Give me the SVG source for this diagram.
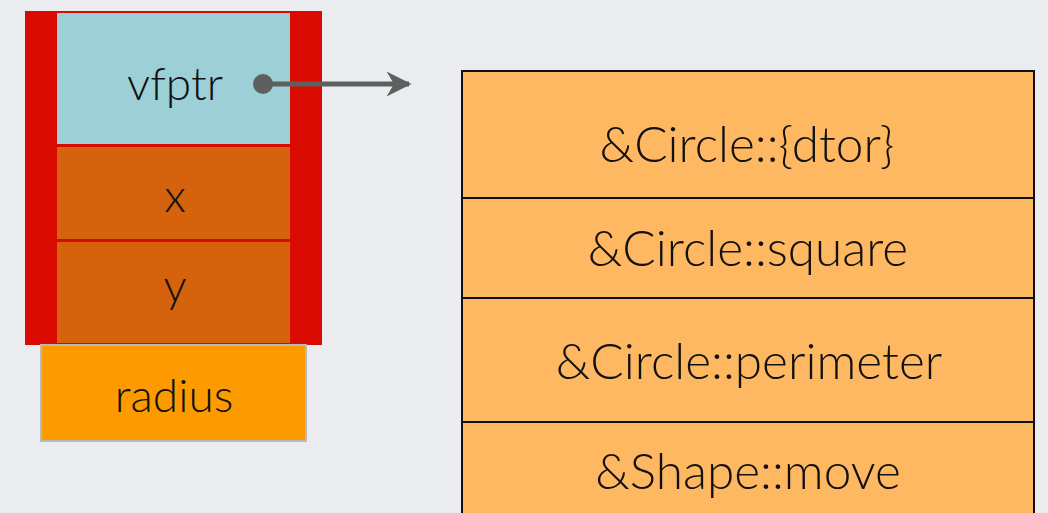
<svg xmlns="http://www.w3.org/2000/svg" width="1048" height="513" viewBox="0 0 1048 513">
<defs>
<style>
.t{font-family:Lato,"Open Sans","DejaVu Sans",sans-serif;font-weight:300;fill:#111;text-anchor:middle}
.big{font-size:46px}
.tb{font-size:49.5px}
.row{fill:#feb862;stroke:#111;stroke-width:2}
</style>
<marker id="ah" viewBox="0 0 10 10" refX="9" refY="5" markerWidth="5" markerHeight="5" orient="auto" markerUnits="strokeWidth">
<path d="M0,0 L10,5 L0,10 L3,5 Z" fill="#5d605f"/>
</marker>
</defs>
<rect x="0" y="0" width="1048" height="513" fill="#eaecef"/>
<g id="object">
<rect x="25" y="11" width="297" height="334" fill="#d90b00"/>
<g id="vfptr"><rect x="57" y="13" width="233" height="131" fill="#9ccfd6"/><text class="t big" x="175" y="100">vfptr</text></g>
<g id="x"><rect x="57" y="147" width="233" height="92" fill="#d5620c"/><text class="t big" x="175" y="212">x</text></g>
<g id="y"><rect x="57" y="242" width="233" height="101" fill="#d5620c"/><text class="t big" x="175" y="302">y</text></g>
</g>
<g id="radius"><rect x="41" y="345" width="265" height="96" fill="#fd9a00" stroke="#b9b9b9" stroke-width="2"/><text class="t big" x="174" y="412">radius</text></g>
<g id="vtable">
<g id="r1"><rect class="row" x="462" y="71" width="572" height="127"/><text class="t tb" x="747" y="162">&amp;Circle::{dtor}</text></g>
<g id="r2"><rect class="row" x="462" y="198" width="572" height="100"/><text class="t tb" x="748" y="266">&amp;Circle::square</text></g>
<g id="r3"><rect class="row" x="462" y="298" width="572" height="124"/><text class="t tb" x="749" y="379">&amp;Circle::perimeter</text></g>
<g id="r4"><rect class="row" x="462" y="422" width="572" height="100"/><text class="t tb" x="748" y="489">&amp;Shape::move</text></g>
</g>
<g id="connectors">
<circle cx="263" cy="84" r="10" fill="#5d605f"/>
<line x1="263" y1="84" x2="409" y2="84" stroke="#5d605f" stroke-width="5" marker-end="url(#ah)"/>
</g>
</svg>
